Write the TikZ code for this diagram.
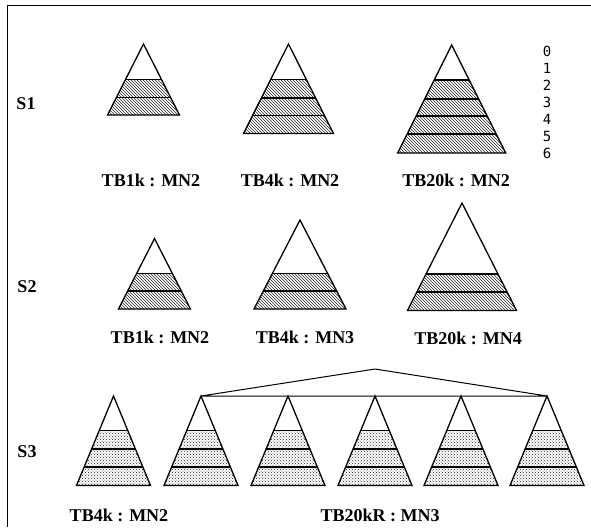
\documentclass[tikz,border=0pt]{standalone}
\usepackage{fontspec}
\setmainfont{Liberation Serif}
\newfontfamily\levelfont{DejaVu Sans Mono}
\usetikzlibrary{calc,patterns}
\definecolor{hatchgray}{HTML}{262626}

\tikzset{
  outline/.style={line width=1.3pt,line join=miter},
  bandline/.style={line width=1.2pt},
  hatchA/.style={pattern=north west lines,pattern color=hatchgray},
  hatchB/.style={pattern=crosshatch dots,pattern color=hatchgray},
  tblabel/.style={font=\fontsize{18}{20}\selectfont\bfseries,inner sep=0pt},
  rowlabel/.style={font=\fontsize{18}{20}\selectfont\bfseries,inner sep=0pt},
  levellabel/.style={font=\levelfont\fontsize{14}{14}\selectfont,inner sep=0pt},
  treeline/.style={line width=1pt},
  frameline/.style={line width=0.8pt}
}

% #1 fill, #2 name, #3 apex x, #4 apex y, #5 base y, #6 half base, #7 band lines
\newcommand{\pyr}[7][hatchA]{%
  \coordinate (#2) at (#3,#4);
  \coordinate (#2-l) at ({#3-#6},#5);
  \coordinate (#2-r) at ({#3+#6},#5);
  \foreach \by [count=\bi] in {#7}{
    \ifnum\bi=1
      \fill[#1] ($(#2)!{(\by-#4)/(#5-#4)}!(#2-l)$) -- ($(#2)!{(\by-#4)/(#5-#4)}!(#2-r)$) -- (#2-r) -- (#2-l) -- cycle;
    \fi
    \draw[bandline] ($(#2)!{(\by-#4)/(#5-#4)}!(#2-l)$) -- ($(#2)!{(\by-#4)/(#5-#4)}!(#2-r)$);
  }
  \draw[outline] (#2) -- (#2-r) -- (#2-l) -- cycle;
}

\begin{document}
\begin{tikzpicture}[x=1pt,y=-1pt]
  \useasboundingbox (0,0) rectangle (591,531);
  \draw[frameline] (591,5) -- (7,5) -- (7,527);

  % row S1
  \node[rowlabel] (s1) at (26,104) {S1};
  \pyr{p11}{143.5}{44}{115}{36}{79.5,97.5}
  \pyr{p12}{288.5}{44}{133.5}{45}{79.5,98,115.5}
  \pyr{p13}{451.7}{45}{153}{54}{80,99,116,134}
  \node[tblabel] (tb11) at (151,180) {TB1k : MN2};
  \node[tblabel] (tb12) at (290,180) {TB4k : MN2};
  \node[tblabel] (tb13) at (456,180) {TB20k : MN2};
  \foreach \lv in {0,...,6}
    \node[levellabel] (lv\lv) at (547,{51+17.05*\lv}) {\lv};

  % row S2
  \node[rowlabel] (s2) at (27,287) {S2};
  \pyr{p21}{154.5}{238.5}{309}{36}{273.5,291}
  \pyr{p22}{300}{220}{309}{46}{273.5,291}
  \pyr{p23}{462}{203}{310.5}{54.5}{274,292}
  \node[tblabel] (tb21) at (160,337) {TB1k : MN2};
  \node[tblabel] (tb22) at (305,337) {TB4k : MN3};
  \node[tblabel] (tb23) at (468,338) {TB20k : MN4};

  % row S3
  \node[rowlabel] (s3) at (27,452) {S3};
  \foreach \px [count=\pi] in {113.5,201,288,375,461,547}
    \pyr[hatchB]{p3\pi}{\px}{396}{485.5}{37}{430.5,449,467}
  \coordinate (root) at (375,369);
  \draw[treeline] (p32) -- (root) -- (p36) -- (p32);
  \node[tblabel] (tb31) at (119,515) {TB4k : MN2};
  \node[tblabel] (tb32) at (380,515) {TB20kR : MN3};
\end{tikzpicture}
\end{document}
